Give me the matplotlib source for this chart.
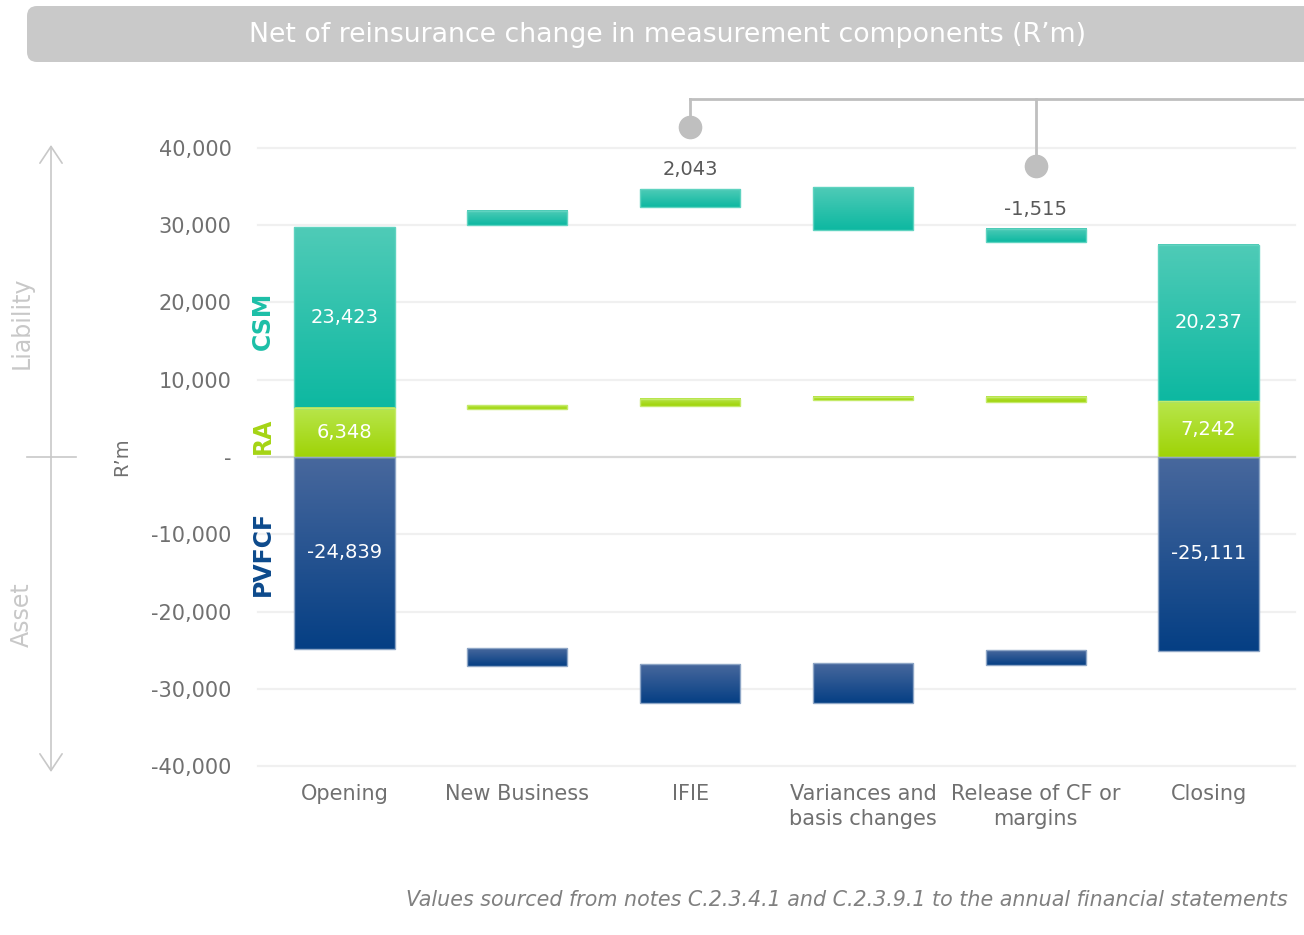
import numpy as np
import matplotlib
matplotlib.use('Agg')
import matplotlib.pyplot as plt
import matplotlib.transforms as mtransforms
from matplotlib.colors import LinearSegmentedColormap
from matplotlib.patches import FancyBboxPatch

# ----------------------------
# Data (R'm)
# ----------------------------
categories = ['Opening', 'New Business', 'IFIE', 'Variances and\nbasis changes',
              'Release of CF or\nmargins', 'Closing']

# floating bar extents (low, high) per category
csm_low = [6348, 30000, 32410, 29360, 27840, 7242]
csm_high = [29771, 31850, 34670, 34920, 29530, 27479]
ra_low = [0, 6220, 6600, 7340, 7080, 0]
ra_high = [6348, 6690, 7510, 7770, 7770, 7242]
pvfcf_low = [-24839, -27030, -31820, -31820, -26940, -25111]
pvfcf_high = [0, -24770, -26850, -26720, -25030, 0]

# printed values inside the opening / closing stacks
total_idx = [0, 5]
csm_totals = [23423, 20237]
ra_totals = [6348, 7242]
pvfcf_totals = [-24839, -25111]

# callouts above the CSM movement bars
callout_idx = [2, 4]
callout_text = ['2,043', '-1,515']

y_ticks = [-40000, -30000, -20000, -10000, 0, 10000, 20000, 30000, 40000]

title = 'Net of reinsurance change in measurement components (R\u2019m)'
footnote = 'Values sourced from notes C.2.3.4.1 and C.2.3.9.1 to the annual financial statements'

# ----------------------------
# Styling
# ----------------------------
plt.rcParams['font.family'] = ['DejaVu Sans']
GREY_TXT = '#707070'
CSM_TOP, CSM_BOT, CSM_EDGE = '#4fcbb7', '#0db8a1', '#5fd3c0'
RA_TOP, RA_BOT, RA_EDGE = '#b8e64c', '#9fd306', '#c4ea6a'
PV_TOP, PV_BOT, PV_EDGE = '#48689d', '#053f84', '#8ea6c6'
CSM_LBL, RA_LBL, PV_LBL = '#1cbfa7', '#a5d415', '#0d4a8c'

W, H = 1304, 935
fig = plt.figure(figsize=(W / 100, H / 100), dpi=100)
ax = fig.add_axes([258 / W, (H - 766) / H, (1295 - 258) / W, (766 - 148) / H])

x = np.arange(len(categories))
width = 0.58


def gradient_bars(low, high, top_c, bot_c, edge_c):
    cmap = LinearSegmentedColormap.from_list('g', [bot_c, top_c])
    grad = np.linspace(1, 0, 256).reshape(-1, 1)
    heights = np.array(high) - np.array(low)
    bars = ax.bar(x, heights, width, bottom=low, facecolor='none',
                  edgecolor=edge_c, linewidth=1, zorder=4)
    for b in bars:
        x0, y0 = b.get_x(), b.get_y()
        ax.imshow(grad, cmap=cmap, vmin=0, vmax=1, origin='upper', aspect='auto',
                  extent=[x0, x0 + b.get_width(), y0, y0 + b.get_height()],
                  interpolation='bilinear', zorder=3)
    return bars


# grid
for v in y_ticks:
    ax.axhline(v, color='#d9d9d9' if v == 0 else '#f0f0f0', lw=1.6, zorder=1, clip_on=False)

gradient_bars(csm_low, csm_high, CSM_TOP, CSM_BOT, CSM_EDGE)
gradient_bars(ra_low, ra_high, RA_TOP, RA_BOT, RA_EDGE)
gradient_bars(pvfcf_low, pvfcf_high, PV_TOP, PV_BOT, PV_EDGE)

# values inside opening / closing stacks
for k, i in enumerate(total_idx):
    for lo, hi, val in [(csm_low[i], csm_high[i], csm_totals[k]),
                        (ra_low[i], ra_high[i], ra_totals[k]),
                        (pvfcf_low[i], pvfcf_high[i], pvfcf_totals[k])]:
        ax.text(i, (lo + hi) / 2, f'{val:,}', ha='center', va='center',
                color='white', fontsize=14, zorder=5)

# component labels next to the opening stack
for lo, hi, txt, c, dy in [(csm_low[0], csm_high[0], 'CSM', CSM_LBL, -500),
                           (ra_low[0], ra_high[0], 'RA', RA_LBL, -400),
                           (pvfcf_low[0], pvfcf_high[0], 'PVFCF', PV_LBL, 0)]:
    ax.text(-0.47, (lo + hi) / 2 + dy, txt, rotation=90, ha='center', va='center',
            color=c, fontsize=17, fontweight='bold', zorder=5)

# callouts
line_y = 46300
for i, txt in zip(callout_idx, callout_text):
    top = csm_high[i]
    ax.annotate(txt, (i, top), xytext=(0, 14), textcoords='offset points',
                ha='center', va='center', fontsize=14, color='#595959')
    dot_y = top + 8100
    ax.plot([i, i], [dot_y, line_y], color='#bfbfbf', lw=2, clip_on=False)
    ax.plot(i, dot_y, 'o', ms=16, color='#bfbfbf', clip_on=False)
ax.plot([callout_idx[0], 5.8], [line_y, line_y], color='#bfbfbf', lw=2, clip_on=False)

# axes
ax.set_xlim(-0.5, 5.5)
ax.set_ylim(-40000, 40000)
ax.set_yticks(y_ticks)
ax.set_yticklabels(['-' if v == 0 else f'{v:,}' for v in y_ticks])
ax.set_xticks(x)
ax.set_xticklabels(categories, linespacing=1.32)
ax.tick_params(axis='y', length=0, pad=19, labelsize=15, labelcolor=GREY_TXT)
ax.tick_params(axis='x', length=0, pad=13, labelsize=15, labelcolor=GREY_TXT)
for s in ax.spines.values():
    s.set_visible(False)

# R'm label
blend = mtransforms.blended_transform_factory(fig.transFigure, ax.transData)
fig.text(122 / W, 0, 'R\u2019m', transform=blend, rotation=90, ha='center', va='center',
         fontsize=14, color=GREY_TXT)

# Liability / Asset arrow
ax.annotate('', xy=(51 / W, 1 - 145 / H), xytext=(51 / W, 1 - 772 / H),
            xycoords='figure fraction', textcoords='figure fraction',
            arrowprops=dict(arrowstyle='<->,head_length=0.6,head_width=0.4',
                            color='#c8c8c8', lw=1.2, mutation_scale=20,
                            shrinkA=0, shrinkB=0))
fig.add_artist(plt.Line2D([27 / W, 76 / W], [0, 0], transform=blend, color='#c8c8c8', lw=1.2))
fig.text(22 / W, 1 - 323 / H, 'Liability', rotation=90, ha='center', va='center',
         fontsize=17, color='#c8c8c8')
fig.text(22 / W, 1 - 615 / H, 'Asset', rotation=90, ha='center', va='center',
         fontsize=17, color='#c8c8c8')

# title banner
banner = FancyBboxPatch((0.27, (H - 62) / 100), 13.3, 0.56,
                        boxstyle='round,pad=0,rounding_size=0.1',
                        transform=fig.dpi_scale_trans, facecolor='#c9c9c9',
                        edgecolor='none')
fig.add_artist(banner)
fig.text(668 / W, 1 - 35.5 / H, title, ha='center', va='center', color='white', fontsize=19.3)

# footnote
fig.text(1288 / W, 1 - 900 / H, footnote, ha='right', va='center', style='italic',
         color='#808080', fontsize=14.9)

fig.savefig('out.png', dpi=100)
